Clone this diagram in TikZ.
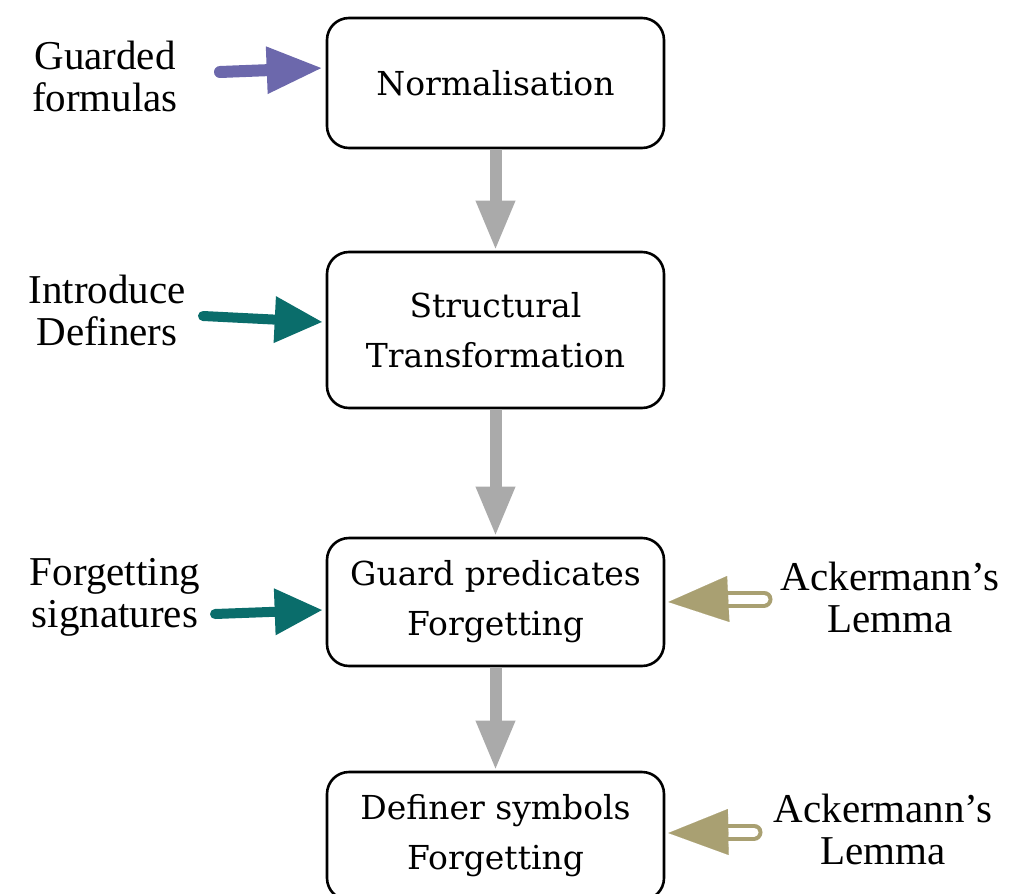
\documentclass[tikz,border=0pt]{standalone}
\usepackage{fontspec}
\setmainfont{Liberation Serif}
\newfontfamily\boxfont{DejaVu Serif}
\usetikzlibrary{arrows.meta}
\definecolor{cpurple}{HTML}{6C68AC}
\definecolor{cteal}{HTML}{0A6D6B}
\definecolor{cgray}{HTML}{AAAAAA}
\definecolor{ckhaki}{HTML}{A9A072}
\tikzset{
  stepbox/.style={draw=black, line width=2.6pt, rounded corners=22pt, minimum width=337pt, align=center, inner sep=0pt, font=\boxfont\fontsize{33}{50}\selectfont},
  lbl/.style={align=center, inner sep=0pt, font=\fontsize{41}{42}\selectfont},
  purplearrow/.style={draw=cpurple, line width=12pt, line cap=round, -{Triangle[length=56pt,width=44pt]}},
  tealarrow/.style={draw=cteal, line width=10pt, line cap=round, -{Triangle[length=48pt,width=44pt]}},
  grayarrow/.style={draw=cgray, line width=12pt, -{Triangle[length=50pt,width=36pt]}},
  khshaft/.style={draw=ckhaki, line width=4pt, double=white, double distance=9pt, line cap=round},
  khhead/.style={draw=ckhaki, line width=0.1pt, -{Triangle[length=60pt,width=46pt]}},
}
\begin{document}
\begin{tikzpicture}[x=1pt,y=-1pt]
\useasboundingbox (0,0) rectangle (1023,894);
\node[stepbox, minimum height=130pt] (b1) at (495.5,83) {Normalisation};
\node[stepbox, minimum height=156pt] (b2) at (495.5,330) {Structural\\Transformation};
\node[stepbox, minimum height=128pt] (b3) at (495.5,602) {Guard predicates\\Forgetting};
\node[stepbox, minimum height=128pt] (b4) at (495.5,836) {Definer symbols\\Forgetting};

\node[lbl] (l1) at (105,76) {Guarded\\formulas};
\node[lbl] (l2) at (107,310) {Introduce\\Definers};
\node[lbl] (l3) at (115,597) {Forgetting\\signatures};
\node[lbl] (l4) at (890,597) {Ackermann’s\\Lemma};
\node[lbl] (l5) at (883,829) {Ackermann’s\\Lemma};

\coordinate (p1) at (220,72);
\coordinate (t1) at (203,316);
\coordinate (t2) at (215,614);
\coordinate (k1) at (764,599);
\coordinate (k1b) at (728,599);
\coordinate (k2) at (754,832);
\coordinate (k2b) at (728,832);

\draw[purplearrow] (p1) -- ([yshift=15pt,xshift=-3pt]b1.west);
\draw[tealarrow] (t1) -- ([yshift=8pt,xshift=-3pt]b2.west);
\draw[tealarrow] (t2) -- ([yshift=-8pt,xshift=-3pt]b3.west);

\draw[grayarrow] (b1.south) -- (b2.north);
\draw[grayarrow] (b2.south) -- (b3.north);
\draw[grayarrow] (b3.south) -- (b4.north);

\draw[khshaft] (k1) -- (k1b);
\draw[khhead] (k1b) -- ([xshift=3pt]b3.east);
\draw[khshaft] (k2) -- (k2b);
\draw[khhead] (k2b) -- ([xshift=3pt,yshift=3pt]b4.east);
\end{tikzpicture}
\end{document}
